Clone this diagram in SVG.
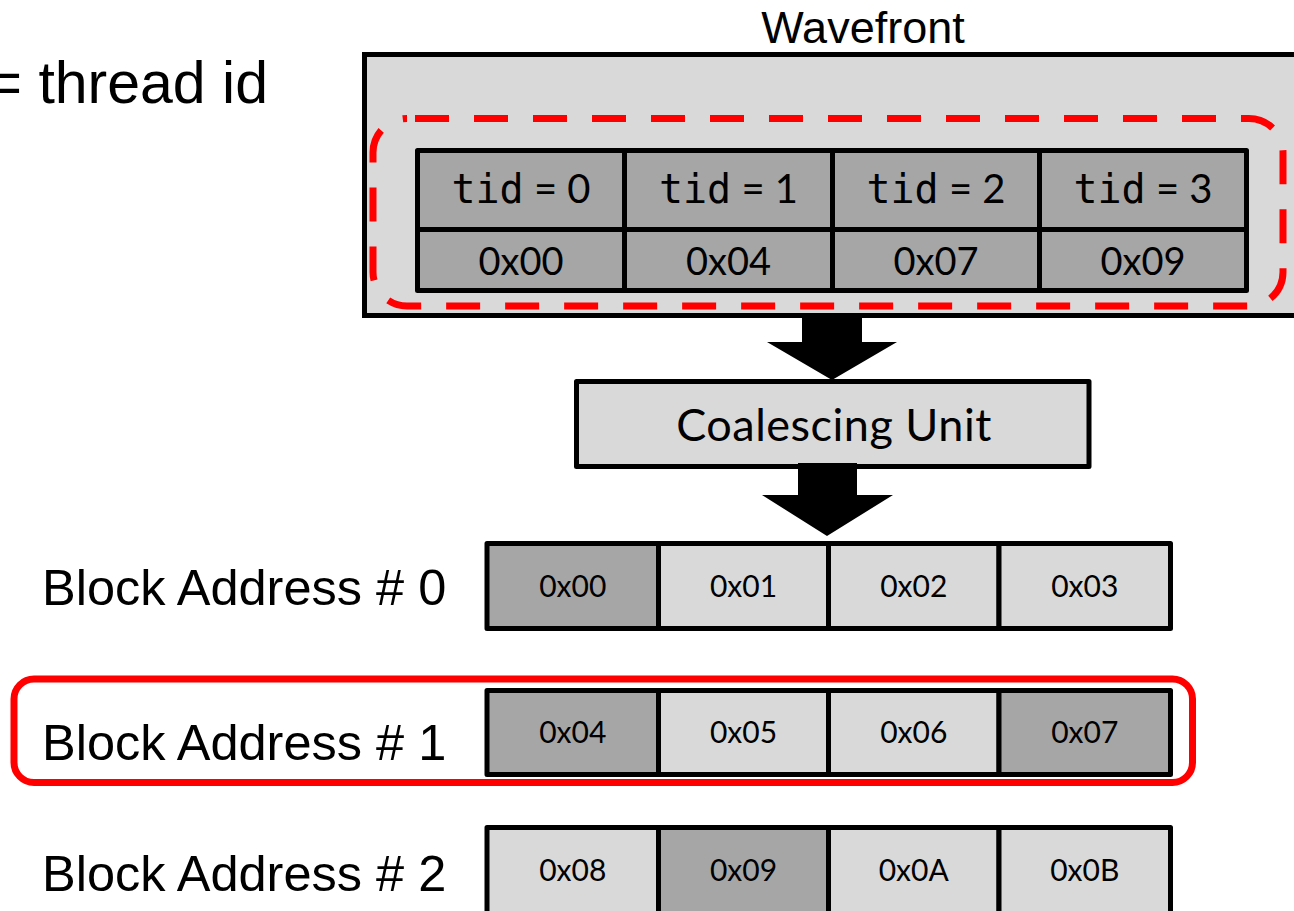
<svg xmlns="http://www.w3.org/2000/svg" width="1294" height="911" viewBox="0 0 1294 911">
  <style>
    .arial { font-family: "Liberation Sans", Arial, sans-serif; fill: #000; }
    .cal { font-family: Lato, "Open Sans", sans-serif; fill: #000; }
    .mono { font-family: "DejaVu Sans Mono", "Liberation Mono", monospace; }
    .light { fill: #d9d9d9; stroke: #000; stroke-width: 5; stroke-linejoin: round; }
    .dark { fill: #a6a6a6; stroke: #000; stroke-width: 5; stroke-linejoin: round; }
    .cell-text { font-size: 30px; text-anchor: middle; }
    .tid { font-size: 40px; text-anchor: middle; }
    .addr { font-size: 38px; text-anchor: middle; }
    .label { font-size: 50.5px; }
    .arrow { fill: #000; }
  </style>

  <rect width="1294" height="911" fill="#fff"/>

  <!-- legend -->
  <g id="legend">
    <text class="arial" x="268" y="103" font-size="59" text-anchor="end">= thread id</text>
  </g>

  <!-- wavefront container -->
  <g id="wavefront">
    <rect x="364.5" y="54.5" width="940" height="261" fill="#d9d9d9" stroke="#000" stroke-width="5"/>
    <text class="arial" x="863" y="43" font-size="45" text-anchor="middle">Wavefront</text>
  </g>

  <!-- thread table -->
  <g id="thread-table">
    <rect class="dark" x="417.5" y="150.5" width="207" height="79"/>
    <rect class="dark" x="624.5" y="150.5" width="208" height="79"/>
    <rect class="dark" x="832.5" y="150.5" width="207" height="79"/>
    <rect class="dark" x="1039.5" y="150.5" width="207" height="79"/>
    <rect class="dark" x="417.5" y="229.5" width="207" height="61"/>
    <rect class="dark" x="624.5" y="229.5" width="208" height="61"/>
    <rect class="dark" x="832.5" y="229.5" width="207" height="61"/>
    <rect class="dark" x="1039.5" y="229.5" width="207" height="61"/>
    <text class="cal tid" x="521" y="203"><tspan class="mono">tid</tspan> = 0</text>
    <text class="cal tid" x="728.5" y="203"><tspan class="mono">tid</tspan> = 1</text>
    <text class="cal tid" x="936" y="203"><tspan class="mono">tid</tspan> = 2</text>
    <text class="cal tid" x="1143" y="203"><tspan class="mono">tid</tspan> = 3</text>
    <text class="cal addr" x="521" y="275">0x00</text>
    <text class="cal addr" x="728.5" y="275">0x04</text>
    <text class="cal addr" x="936" y="275">0x07</text>
    <text class="cal addr" x="1143" y="275">0x09</text>
  </g>

  <!-- dashed selection around the active threads -->
  <g id="active-threads">
    <rect x="373" y="118.5" width="910" height="187.5" rx="34" ry="34" fill="none" stroke="#ff0000" stroke-width="7" stroke-dasharray="34 25" stroke-dashoffset="-8"/>
  </g>

  <!-- coalescing unit -->
  <g id="coalescing-unit">
    <rect class="light" x="576.5" y="381.5" width="512.5" height="85"/>
    <text class="cal" x="834" y="441" font-size="45" text-anchor="middle" letter-spacing="0.5">Coalescing Unit</text>
  </g>

  <!-- block arrows -->
  <g id="connectors">
    <polygon class="arrow" points="802,316 862,316 862,342 897,342 832,380 767,342 802,342"/>
    <polygon class="arrow" points="798,463 857,463 857,495 893,495 827,536 762,495 798,495"/>
  </g>

  <!-- block address 0 -->
  <g id="block-0">
    <text class="arial label" x="42" y="605">Block Address # 0</text>
    <rect class="dark" x="487" y="543.5" width="171.5" height="85"/>
    <rect class="light" x="658.5" y="543.5" width="170" height="85"/>
    <rect class="light" x="828.5" y="543.5" width="170.5" height="85"/>
    <rect class="light" x="999" y="543.5" width="171.5" height="85"/>
    <text class="cal cell-text" x="572.75" y="597">0x00</text>
    <text class="cal cell-text" x="743.5" y="597">0x01</text>
    <text class="cal cell-text" x="913.75" y="597">0x02</text>
    <text class="cal cell-text" x="1084.75" y="597">0x03</text>
  </g>

  <!-- block address 1 (highlighted) -->
  <g id="block-1">
    <rect x="14" y="679" width="1178.5" height="103.5" rx="20" ry="20" fill="none" stroke="#ff0000" stroke-width="7"/>
    <text class="arial label" x="42" y="760">Block Address # 1</text>
    <rect class="dark" x="487" y="690.5" width="171.5" height="84"/>
    <rect class="light" x="658.5" y="690.5" width="170" height="84"/>
    <rect class="light" x="828.5" y="690.5" width="170.5" height="84"/>
    <rect class="dark" x="999" y="690.5" width="171.5" height="84"/>
    <text class="cal cell-text" x="572.75" y="743">0x04</text>
    <text class="cal cell-text" x="743.5" y="743">0x05</text>
    <text class="cal cell-text" x="913.75" y="743">0x06</text>
    <text class="cal cell-text" x="1084.75" y="743">0x07</text>
  </g>

  <!-- block address 2 -->
  <g id="block-2">
    <text class="arial label" x="42" y="891">Block Address # 2</text>
    <rect class="light" x="487" y="827.5" width="171.5" height="86"/>
    <rect class="dark" x="658.5" y="827.5" width="170" height="86"/>
    <rect class="light" x="828.5" y="827.5" width="170.5" height="86"/>
    <rect class="light" x="999" y="827.5" width="171.5" height="86"/>
    <text class="cal cell-text" x="572.75" y="881">0x08</text>
    <text class="cal cell-text" x="743.5" y="881">0x09</text>
    <text class="cal cell-text" x="913.75" y="881">0x0A</text>
    <text class="cal cell-text" x="1084.75" y="881">0x0B</text>
  </g>
</svg>
